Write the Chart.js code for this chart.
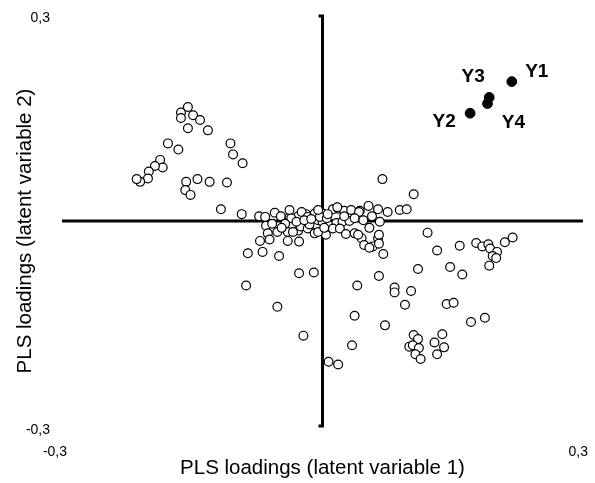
<!DOCTYPE html>
<html>
<head>
<meta charset="utf-8">
<script src="https://cdn.jsdelivr.net/npm/chart.js@4.4.1/dist/chart.umd.min.js"></script>
<style>
    html, body { margin: 0; padding: 0; background: #ffffff; }
</style>
</head>
<body>
<canvas id="loadingsChart" width="595" height="483"></canvas>
<script>
// Loadings of the predictor variables (open circles), latent variable 1 / 2
let openX = [
    -0.163, -0.155, -0.163, -0.149, -0.141, -0.155, -0.132, -0.178, -0.166, -0.106,
    -0.103, -0.092, -0.187, -0.184, -0.193, -0.200, -0.201, -0.210, -0.214, -0.157,
    -0.144, -0.130, -0.110, -0.158, -0.152, -0.117, -0.093, -0.073, -0.066, -0.055,
    -0.048, -0.038, -0.028, -0.019, -0.009, -0.065, -0.052, -0.063, -0.040, -0.028,
    -0.025, -0.017, -0.007, -0.005, -0.072, -0.061, -0.040, -0.027, -0.009, -0.086,
    -0.069, -0.050, -0.027, -0.010, -0.088, -0.052, -0.022, 0.007, 0.018, 0.000,
    0.012, 0.018, 0.025, 0.033, 0.043, 0.053, 0.064, 0.066, -0.024, -0.017,
    -0.036, -0.030, -0.015, 0.000, 0.008, 0.016, 0.023, 0.031, 0.012, 0.020,
    0.027, 0.037, 0.045, 0.048, 0.058, 0.064, -0.034, 0.004, -0.005, 0.017,
    0.042, 0.069, 0.105, 0.075, 0.089, 0.097, 0.065, 0.065, 0.054, 0.070,
    0.041, 0.121, 0.132, 0.158, 0.177, 0.184, 0.191, 0.193, 0.201, 0.196,
    0.200, 0.192, 0.210, 0.219, 0.110, 0.147, 0.161, 0.102, 0.095, 0.143,
    0.151, 0.171, 0.187, 0.105, 0.110, 0.100, 0.104, 0.111, 0.107, 0.113,
    0.138, 0.129, 0.140, 0.132, 0.065, 0.040, 0.083, 0.083, 0.037, 0.072,
    0.034, -0.021, -0.013, -0.003, 0.005, -0.043, -0.047, 0.002, -0.005, 0.006,
    0.025, 0.037, 0.047, 0.054, 0.057, -0.038, -0.058
];
let openY = [
    0.158, 0.166, 0.150, 0.154, 0.147, 0.135, 0.132, 0.113, 0.104, 0.113,
    0.097, 0.084, 0.089, 0.078, 0.080, 0.072, 0.062, 0.057, 0.061, 0.057,
    0.061, 0.057, 0.056, 0.045, 0.038, 0.017, 0.010, 0.007, 0.006, 0.012,
    0.007, 0.005, 0.007, 0.010, 0.011, -0.007, -0.016, -0.018, -0.016, -0.014,
    -0.008, -0.011, -0.006, 0.001, -0.029, -0.027, -0.029, -0.030, -0.018, -0.047,
    -0.045, -0.051, -0.076, -0.075, -0.094, -0.125, -0.167, -0.205, -0.209, 0.011,
    0.017, 0.018, 0.015, 0.016, 0.015, 0.022, 0.017, -0.001, 0.013, 0.006,
    0.004, -0.001, -0.005, -0.001, -0.006, -0.003, -0.001, 0.000, -0.011, -0.011,
    -0.019, -0.018, -0.025, -0.035, -0.037, -0.025, -0.016, -0.020, -0.016, 0.020,
    0.013, 0.061, 0.039, 0.013, 0.016, 0.017, -0.020, -0.033, -0.039, -0.048,
    -0.020, -0.017, -0.043, -0.036, -0.032, -0.037, -0.034, -0.040, -0.045, -0.051,
    -0.054, -0.065, -0.031, -0.024, -0.070, -0.067, -0.078, -0.102, -0.122, -0.121,
    -0.119, -0.147, -0.141, -0.166, -0.172, -0.183, -0.181, -0.185, -0.194, -0.201,
    -0.165, -0.177, -0.184, -0.194, -0.080, -0.094, -0.097, -0.104, -0.138, -0.152,
    -0.181, 0.001, 0.003, 0.006, 0.004, -0.004, -0.010, -0.010, 0.016, 0.010,
    0.007, 0.004, 0.001, -0.010, 0.007, 0.016, -0.004
];

// Loadings of the responses (filled circles)
let respLabels = ['Y1', 'Y2', 'Y3', 'Y4'];
let respX = [0.218, 0.170, 0.192, 0.190];
let respY = [0.203, 0.157, 0.180, 0.171];

// Axis range, end labels and titles
let axisMin = -0.3;
let axisMax = 0.3;
let xTickValues = [-0.3, 0.3];
let xTickLabels = ['-0,3', '0,3'];
let yTickValues = [0.3, -0.3];
let yTickLabels = ['0,3', '-0,3'];
let xTitle = 'PLS loadings (latent variable 1)';
let yTitle = 'PLS loadings (latent variable 2)';

// Where each response label sits relative to its point (pixels)
let respLabelOffsets = [[25, -10], [-26, 9], [-16, -21], [26, 19]];

const FONT = "'Liberation Sans', Arial, sans-serif";

// Builds {x, y} pairs from two parallel arrays
function toPoints(xs, ys) {
    let pts = [];
    for (let i = 0; i < xs.length; i++) {
        pts.push({ x: xs[i], y: ys[i] });
    }
    return pts;
}

// Draws the cross through the origin, the end labels, the y title and the Y1..Y4 names
const loadingAxes = {
    id: 'loadingAxes',
    beforeDatasetsDraw(chart) {
        let ctx = chart.ctx;
        let area = chart.chartArea;
        let x0 = chart.scales.x.getPixelForValue(0);
        let y0 = chart.scales.y.getPixelForValue(0);

        ctx.save();
        ctx.strokeStyle = '#000';
        ctx.lineWidth = 3;
        ctx.lineCap = 'butt';

        // horizontal axis
        ctx.beginPath();
        ctx.moveTo(area.left, y0);
        ctx.lineTo(area.right, y0);
        ctx.stroke();

        // vertical axis with the small hooks at both ends
        ctx.beginPath();
        ctx.moveTo(x0 - 4, area.top + 1);
        ctx.lineTo(x0, area.top + 1);
        ctx.lineTo(x0, area.bottom - 1);
        ctx.lineTo(x0 - 4, area.bottom - 1);
        ctx.stroke();
        ctx.restore();
    },
    afterDatasetsDraw(chart) {
        let ctx = chart.ctx;
        let area = chart.chartArea;
        let xs = chart.scales.x;
        let ys = chart.scales.y;

        ctx.save();
        ctx.fillStyle = '#000';
        ctx.textBaseline = 'middle';

        // end labels of both axes
        ctx.font = '14px ' + FONT;
        ctx.textAlign = 'right';
        for (let i = 0; i < yTickValues.length; i++) {
            ctx.fillText(yTickLabels[i], area.left - 12, ys.getPixelForValue(yTickValues[i]) + 3);
        }
        for (let i = 0; i < xTickValues.length; i++) {
            ctx.fillText(xTickLabels[i], xs.getPixelForValue(xTickValues[i]) + 5, area.bottom + 25);
        }

        // rotated title of the vertical axis, sitting a little below the middle
        ctx.save();
        ctx.font = '20.5px ' + FONT;
        ctx.textAlign = 'center';
        ctx.translate(25, (area.top + area.bottom) / 2 + 10);
        ctx.rotate(-Math.PI / 2);
        ctx.fillText(yTitle, 0, 0);
        ctx.restore();

        // names of the response loadings
        ctx.font = 'bold 19px ' + FONT;
        ctx.textAlign = 'center';
        for (let i = 0; i < respLabels.length; i++) {
            let px = xs.getPixelForValue(respX[i]) + respLabelOffsets[i][0];
            let py = ys.getPixelForValue(respY[i]) + respLabelOffsets[i][1];
            ctx.fillText(respLabels[i], px, py);
        }
        ctx.restore();
    }
};

function buildChart() {
    let ctx = document.getElementById('loadingsChart').getContext('2d');

    new Chart(ctx, {
        type: 'scatter',
        data: {
            datasets: [
                {
                    label: 'X loadings',
                    data: toPoints(openX, openY),
                    pointRadius: 4.4,
                    pointBorderWidth: 1.2,
                    pointBorderColor: '#000',
                    pointBackgroundColor: '#fff'
                },
                {
                    label: 'Y loadings',
                    data: toPoints(respX, respY),
                    pointRadius: 4.9,
                    pointBorderWidth: 1,
                    pointBorderColor: '#000',
                    pointBackgroundColor: '#000'
                }
            ]
        },
        options: {
            responsive: false,
            animation: false,
            devicePixelRatio: 1,
            layout: { padding: { top: 15, right: 12, left: 0, bottom: 0 } },
            plugins: {
                legend: { display: false },
                tooltip: { enabled: false }
            },
            scales: {
                x: {
                    type: 'linear',
                    min: axisMin,
                    max: axisMax,
                    grid: { display: false },
                    border: { display: false },
                    ticks: { display: false },
                    title: {
                        display: true,
                        text: xTitle,
                        color: '#000',
                        font: { family: FONT, size: 20.5 },
                        padding: { top: 0, bottom: 2 }
                    },
                    afterFit: function (scale) { scale.height = 56; }
                },
                y: {
                    type: 'linear',
                    min: axisMin,
                    max: axisMax,
                    grid: { display: false },
                    border: { display: false },
                    ticks: { display: false },
                    afterFit: function (scale) { scale.width = 62; }
                }
            }
        },
        plugins: [loadingAxes]
    });
}

buildChart();
</script>
</body>
</html>
